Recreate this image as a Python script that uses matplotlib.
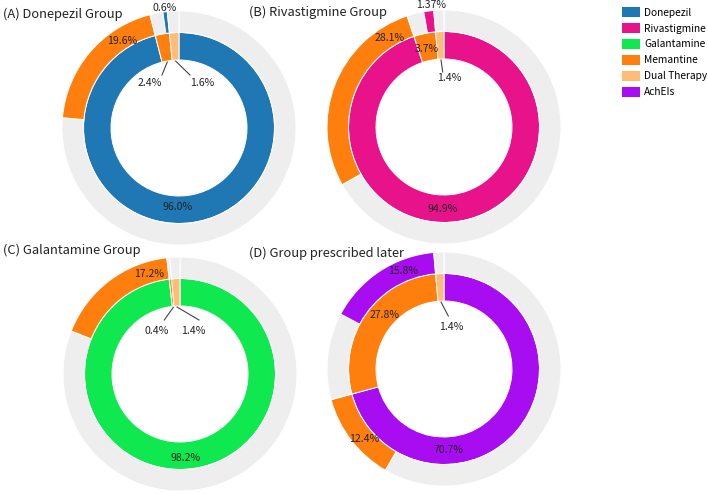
import matplotlib
matplotlib.use('Agg')
import matplotlib.pyplot as plt
from matplotlib.patches import Patch
import numpy as np

W, H, DPI = 708, 494, 100
FONT = ['Noto Sans CJK KR', 'DejaVu Sans']
plt.rcParams['font.family'] = FONT

# ---------------- data ----------------
legend_labels = ['Donepezil', 'Rivastigmine', 'Galantamine', 'Memantine', 'Dual Therapy', 'AchEIs']
legend_colors = ['#1f77b4', '#e8128b', '#0fe94f', '#ff7f0e', '#ffbb78', '#a70df0']
GREY = '#eeeeee'

titles = ['(A) Donepezil Group', '(B) Rivastigmine Group',
          '(C) Galantamine Group', '(D) Group prescribed later']

# inner ring (initial prescription) and outer ring (later change, one child per inner slice)
inner_labels_A = ['Donepezil', 'Memantine', 'Dual Therapy']
inner_values_A = [96.0, 2.4, 1.6]
outer_labels_A = ['Memantine', 'Donepezil', None]
outer_values_A = [19.6, 0.6, 0.0]

inner_labels_B = ['Rivastigmine', 'Memantine', 'Dual Therapy']
inner_values_B = [94.9, 3.7, 1.4]
outer_labels_B = ['Memantine', 'Rivastigmine', None]
outer_values_B = [28.1, 1.37, 0.0]

inner_labels_C = ['Galantamine', 'Memantine', 'Dual Therapy']
inner_values_C = [98.2, 0.4, 1.4]
outer_labels_C = ['Memantine', None, None]
outer_values_C = [17.2, 0.0, 0.0]

inner_labels_D = ['AchEIs', 'Memantine', 'Dual Therapy']
inner_values_D = [70.7, 27.8, 1.4]
outer_labels_D = ['Memantine', 'AchEIs', None]
outer_values_D = [12.4, 15.8, 0.0]

panels = [
    (inner_labels_A, inner_values_A, outer_labels_A, outer_values_A),
    (inner_labels_B, inner_values_B, outer_labels_B, outer_values_B),
    (inner_labels_C, inner_values_C, outer_labels_C, outer_values_C),
    (inner_labels_D, inner_values_D, outer_labels_D, outer_values_D),
]

# ---------------- layout (pixels) ----------------
centers = [(179, 128), (444, 127), (180, 374), (444, 369)]
title_pos = [(3, 14), (249, 12), (3, 250), (249, 253)]
R_HOLE, R_MID, R_OUT = 68, 95.5, 117

# label placement: (ring, index, dx, dy, leader_end or None)
label_layout = [
    [('in', 0, -1, 79, None), ('in', 1, -29, -45, (-17, -53)), ('in', 2, 23, -45, (11, -53)),
     ('out', 0, -57, -87, None), ('out', 1, -14, -120, None)],
    [('in', 0, -1, 82, None), ('in', 1, -17, -78, None), ('in', 2, 5, -49, (-1.3, -55)),
     ('out', 0, -54, -89, None), ('out', 1, -13, -122, None)],
    [('in', 0, 6, 84, None), ('in', 1, -23, -43, (-15.7, -54)), ('in', 2, 13, -43, (19, -54)),
     ('out', 0, -31, -100, None)],
    [('in', 0, 4, 81, None), ('in', 1, -59, -54, None), ('in', 2, 7, -42, (4.3, -53)),
     ('out', 0, -80, 70, None), ('out', 1, -41, -98, None)],
]

color_of = dict(zip(legend_labels, legend_colors))


def fmt(v):
    return ('%.2f%%' % v) if round(v, 1) != v else ('%.1f%%' % v)


fig = plt.figure(figsize=(W / DPI, H / DPI), dpi=DPI)
ax = fig.add_axes([0, 0, 1, 1])

PT = 72.0 / DPI
TXT = '#222222'
edge = dict(edgecolor='white', linewidth=0.7)

for p, (ilab, ival, olab, oval) in enumerate(panels):
    cx, cy = centers[p]
    c = (cx, H - cy)
    # inner ring
    ax.pie(ival, center=c, radius=R_MID, startangle=90, counterclock=False,
           colors=[color_of[l] for l in ilab],
           wedgeprops=dict(width=R_MID - R_HOLE, **edge))
    # outer ring: for each inner slice, grey remainder then the coloured child
    ovals, ocols = [], []
    for pv, cl, cv in zip(ival, olab, oval):
        ovals.append(pv - cv)
        ocols.append(GREY)
        if cl is not None and cv > 0:
            ovals.append(cv)
            ocols.append(color_of[cl])
    ax.pie(ovals, center=c, radius=R_OUT, startangle=90, counterclock=False,
           colors=ocols, wedgeprops=dict(width=R_OUT - R_MID, **edge))

    # slice mid angles (clockwise from top)
    tot = float(np.sum(ival))
    cum = np.cumsum([0] + list(ival)) / tot * 360.0
    mids = (cum[:-1] + cum[1:]) / 2.0

    for ring, idx, dx, dy, lead in label_layout[p]:
        v = ival[idx] if ring == 'in' else oval[idx]
        ax.text(cx + dx, H - (cy + dy), fmt(v), ha='center', va='center',
                fontsize=10.5 * PT, color=TXT)
        if lead is not None:
            a = np.deg2rad(mids[idx])
            x0, y0 = cx + 67 * np.sin(a), cy - 67 * np.cos(a)
            ax.plot([x0, cx + lead[0]], [H - y0, H - (cy + lead[1])],
                    color='#444444', lw=0.8)

    tx, ty = title_pos[p]
    ax.text(tx, H - ty, titles[p], ha='left', va='center', fontsize=12.9 * PT, color='#222222')

handles = [Patch(facecolor=col, edgecolor='none') for col in legend_colors]
ax.legend(handles, legend_labels, loc='upper left',
          bbox_to_anchor=(621.5 / W, 1 - 7 / H), frameon=False,
          fontsize=10.2 * PT, handlelength=1.8, handleheight=1.18,
          handletextpad=0.45, labelspacing=0.52, borderpad=0, borderaxespad=0)

ax.set_xlim(0, W)
ax.set_ylim(0, H)
ax.set_aspect('equal')
ax.axis('off')
fig.savefig('out.png', dpi=DPI)
